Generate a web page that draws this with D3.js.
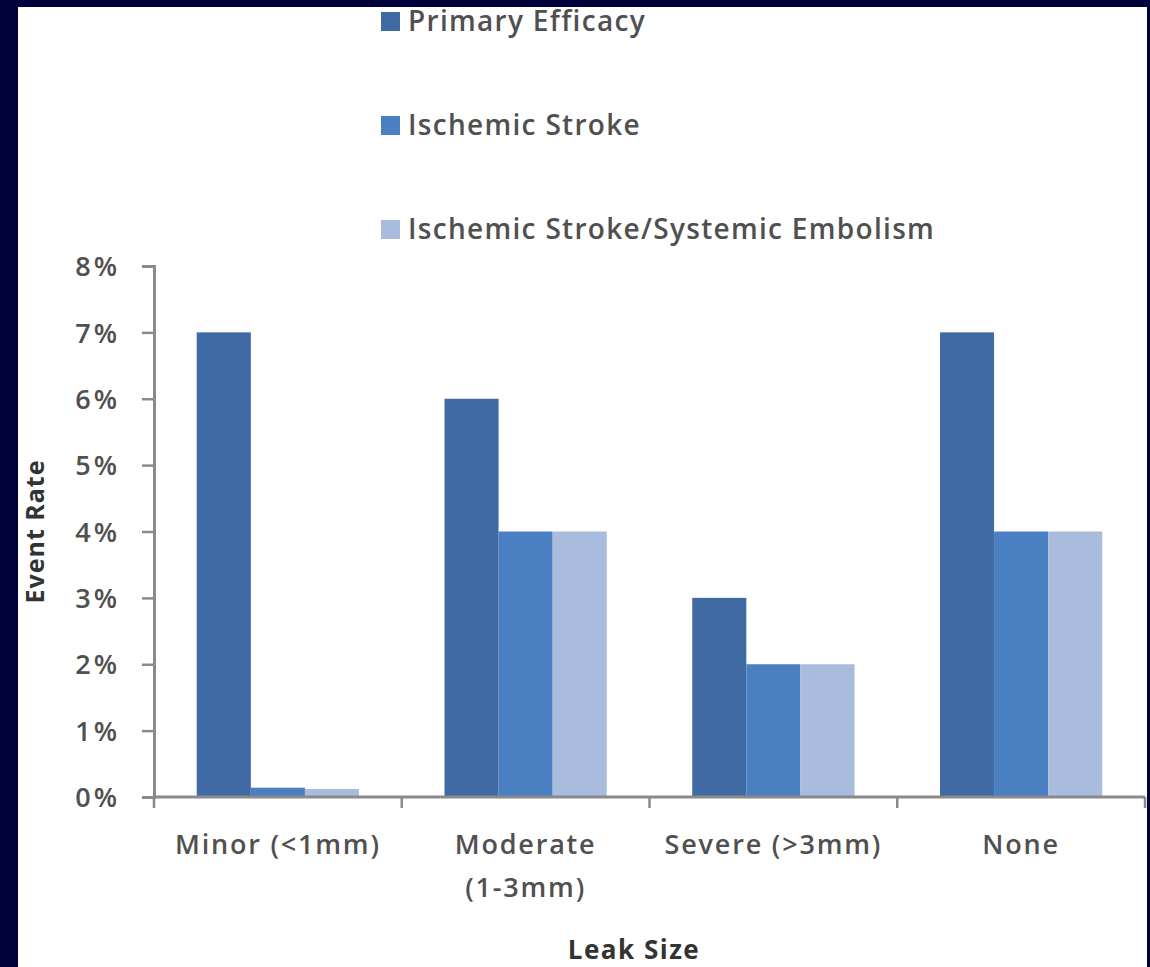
<!DOCTYPE html>
<html>
<head>
<meta charset="utf-8">
<script src="https://cdn.jsdelivr.net/npm/d3@7"></script>
<style>
  html, body { margin: 0; padding: 0; background: #00003a; }
  svg { display: block; }
  text { font-family: "Open Sans", "DejaVu Sans", sans-serif; }
</style>
</head>
<body>
<svg id="chart" width="1150" height="967"></svg>
<script>
// Leak size categories and event rates (%) per outcome
const categories = ["Minor (<1mm)", "Moderate\n(1-3mm)", "Severe (>3mm)", "None"];
const seriesNames = ["Primary Efficacy", "Ischemic Stroke", "Ischemic Stroke/Systemic Embolism"];
const primaryEfficacy = [7, 6, 3, 7];
const ischemicStroke = [0.14, 4, 2, 4];
const strokeEmbolism = [0.12, 4, 2, 4];
const yTicks = [0, 1, 2, 3, 4, 5, 6, 7, 8];
const colors = ["#3f6aa3", "#4a7fc2", "#a9bcdd"];

const seriesValues = [primaryEfficacy, ischemicStroke, strokeEmbolism];

const svg = d3.select("#chart");

// white panel inside the navy frame
svg.append("rect")
  .attr("x", 18).attr("y", 7)
  .attr("width", 1129).attr("height", 960)
  .attr("fill", "#ffffff");

const plot = { left: 154, right: 1145, top: 266, bottom: 797 };

const y = d3.scaleLinear().domain([0, 8]).range([plot.bottom, plot.top]);
const x0 = d3.scaleBand().domain(d3.range(categories.length))
  .range([plot.left, plot.right]).paddingInner(0).paddingOuter(0);
const x1 = d3.scaleBand().domain(d3.range(seriesNames.length))
  .range([0, x0.bandwidth()]).paddingInner(0).paddingOuter(0.79);

// bars
const groups = svg.append("g").selectAll("g")
  .data(categories.map((c, i) => i))
  .join("g")
  .attr("transform", i => `translate(${x0(i)},0)`);

groups.selectAll("rect")
  .data(i => seriesValues.map((vals, s) => ({ s, v: vals[i] })))
  .join("rect")
  .attr("x", d => x1(d.s))
  .attr("width", x1.bandwidth())
  .attr("y", d => y(d.v))
  .attr("height", d => y(0) - y(d.v))
  .attr("fill", d => colors[d.s]);

// y axis
const yAxis = svg.append("g")
  .attr("transform", `translate(${plot.left},0)`)
  .call(d3.axisLeft(y).tickValues(yTicks).tickFormat(d => d + "%").tickSize(12).tickPadding(22));
yAxis.select(".domain").attr("stroke", "#8a8a8a").attr("stroke-width", 3);
yAxis.selectAll(".tick line").attr("stroke", "#8a8a8a").attr("stroke-width", 2.5);
yAxis.selectAll(".tick text")
  .attr("fill", "#505050").attr("font-size", 27).attr("font-weight", 600)
  .attr("letter-spacing", 3).attr("dy", "0.36em");

// x axis line with ticks at category boundaries
const xg = svg.append("g");
xg.append("line")
  .attr("x1", plot.left).attr("x2", plot.right)
  .attr("y1", plot.bottom).attr("y2", plot.bottom)
  .attr("stroke", "#8a8a8a").attr("stroke-width", 3);
const boundaries = d3.range(categories.length + 1).map(i =>
  i < categories.length ? x0(i) : x0(categories.length - 1) + x0.bandwidth());
xg.selectAll("line.btick")
  .data(boundaries)
  .join("line")
  .attr("class", "btick")
  .attr("x1", d => d).attr("x2", d => d)
  .attr("y1", plot.bottom).attr("y2", plot.bottom + 11)
  .attr("stroke", "#8a8a8a").attr("stroke-width", 2.5);

// category labels
const lab = svg.append("g").selectAll("text")
  .data(categories.map((c, i) => ({ c, i })))
  .join("text")
  .attr("x", d => x0(d.i) + x0.bandwidth() / 2)
  .attr("y", 854)
  .attr("text-anchor", "middle")
  .attr("fill", "#505050")
  .attr("font-size", 27).attr("font-weight", 600)
  .attr("letter-spacing", 1.8);
lab.selectAll("tspan")
  .data(d => d.c.split("\n").map((t, k) => ({ t, k, x: x0(d.i) + x0.bandwidth() / 2 })))
  .join("tspan")
  .attr("x", d => d.x)
  .attr("dy", d => d.k === 0 ? 0 : 43)
  .text(d => d.t);

// axis titles
svg.append("text")
  .attr("x", 634).attr("y", 959)
  .attr("text-anchor", "middle")
  .attr("font-size", 26).attr("font-weight", "bold")
  .attr("letter-spacing", 1.5)
  .attr("fill", "#333")
  .text("Leak Size");

svg.append("text")
  .attr("transform", `translate(44,${(plot.top + plot.bottom) / 2}) rotate(-90)`)
  .attr("text-anchor", "middle")
  .attr("font-size", 25).attr("font-weight", "bold")
  .attr("letter-spacing", 1)
  .attr("fill", "#333")
  .text("Event Rate");

// legend
const legend = svg.append("g").selectAll("g")
  .data(seriesNames.map((n, i) => ({ n, i })))
  .join("g")
  .attr("transform", d => `translate(381,${21 + d.i * 104})`);
legend.append("rect")
  .attr("x", 0).attr("y", -9)
  .attr("width", 19).attr("height", 19)
  .attr("fill", d => colors[d.i]);
legend.append("text")
  .attr("x", 27).attr("y", 0).attr("dy", "0.36em")
  .attr("font-size", 28).attr("font-weight", 600)
  .attr("letter-spacing", 1.3)
  .attr("fill", "#505050")
  .text(d => d.n);
</script>
</body>
</html>
